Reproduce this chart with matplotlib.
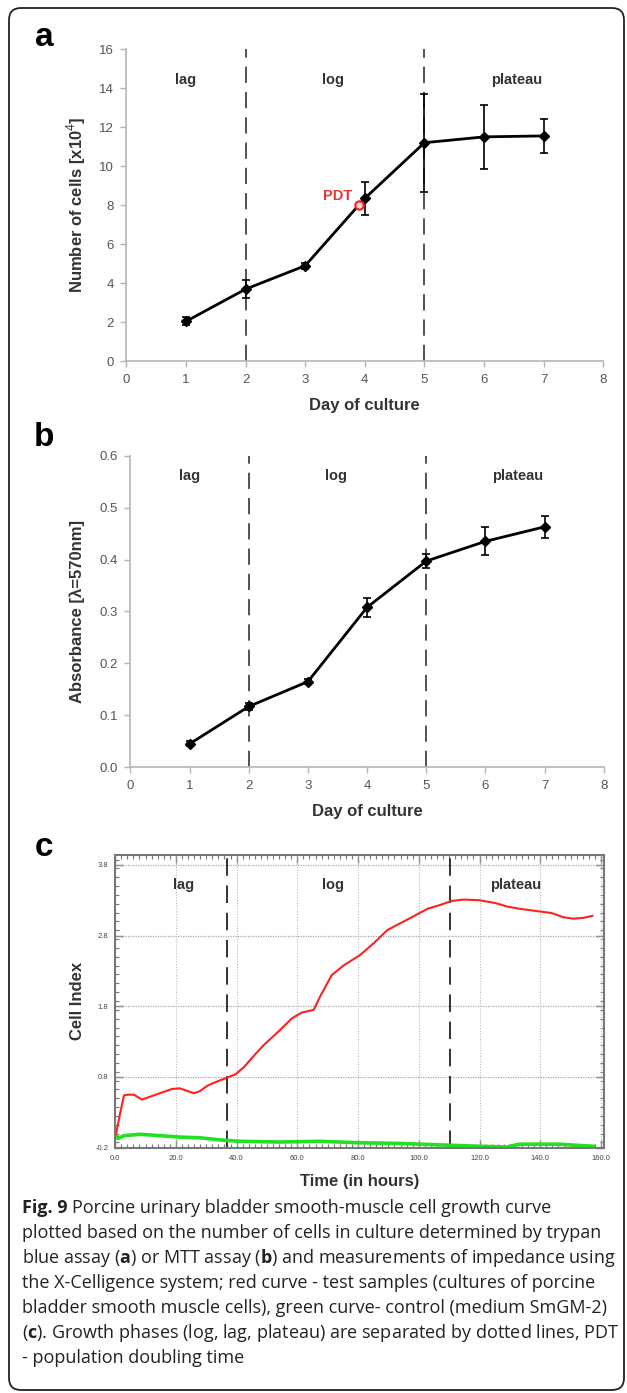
import matplotlib
matplotlib.use("Agg")
import matplotlib.pyplot as plt
from matplotlib.patches import FancyBboxPatch
from matplotlib.ticker import MultipleLocator, FixedLocator
import numpy as np

# ---- panel a: trypan blue counts ----
days = [1, 2, 3, 4, 5, 6, 7]
cells = [2.05, 3.7, 4.9, 8.35, 11.2, 11.5, 11.55]
cells_err = [0.2, 0.45, 0.15, 0.85, 2.5, 1.65, 0.88]
pdt_day, pdt_cells = 3.9, 8.0

# ---- panel b: MTT absorbance ----
absorb = [0.045, 0.117, 0.165, 0.308, 0.397, 0.435, 0.463]
absorb_err = [0.005, 0.007, 0.005, 0.018, 0.014, 0.027, 0.021]

# ---- panel c: impedance (cell index) ----
red_t = [0.3, 1.6, 2.9, 4.2, 6.2, 8.8, 11.4, 14.7, 18.7, 21.3, 23.3, 25.9, 27.9,
         30.5, 33.8, 36.8, 39.7, 42.4, 46.3, 48.9, 54.2, 58.2, 61.4, 65.4, 67.4,
         71.3, 75.3, 80.5, 85.1, 89.7, 93.7, 99.0, 102.9, 106.8, 110.8, 114.7,
         120.0, 125.3, 129.2, 133.2, 138.4, 143.7, 147.6, 150.9, 154.2, 157.2]
red_ci = [0.0, 0.28, 0.54, 0.55, 0.55, 0.48, 0.52, 0.57, 0.63, 0.64, 0.61, 0.57, 0.60,
          0.68, 0.74, 0.79, 0.84, 0.94, 1.13, 1.25, 1.46, 1.63, 1.71, 1.75, 1.93,
          2.24, 2.38, 2.52, 2.69, 2.88, 2.97, 3.09, 3.18, 3.23, 3.29, 3.31,
          3.30, 3.26, 3.21, 3.18, 3.15, 3.12, 3.06, 3.04, 3.05, 3.08]
green_t = [0.0, 0.9, 2.9, 8.2, 14.7, 21.3, 27.9, 34.5, 41.0, 54.2, 67.4, 80.5,
           93.7, 106.8, 120.0, 129.0, 133.0, 146.0, 157.5]
green_ci = [0.02, -0.07, -0.03, -0.01, -0.03, -0.05, -0.06, -0.09, -0.11, -0.12, -0.11,
            -0.13, -0.14, -0.16, -0.18, -0.19, -0.15, -0.15, -0.18]
hour_ticks = list(range(0, 161, 20))
ci_ticks = [-0.2, 0.8, 1.8, 2.8, 3.8]
phase_split_days = [2, 5]
phase_split_hours = [36.8, 110.4]
phase_names = ["lag", "log", "plateau"]

caption_bold = "Fig. 9"
caption_lines = [
    "Porcine urinary bladder smooth-muscle cell growth curve",
    "plotted based on the number of cells in culture determined by trypan",
    r"blue assay ($\mathbf{a}$) or MTT assay ($\mathbf{b}$) and measurements of impedance using",
    "the X-Celligence system; red curve - test samples (cultures of porcine",
    "bladder smooth muscle cells), green curve- control (medium SmGM-2)",
    r"($\mathbf{c}$). Growth phases (log, lag, plateau) are separated by dotted lines, PDT",
    "- population doubling time",
]

plt.rcParams['font.family'] = ['Liberation Sans', 'DejaVu Sans']
plt.rcParams['mathtext.fontset'] = 'custom'
plt.rcParams['mathtext.rm'] = 'Open Sans'
plt.rcParams['mathtext.bf'] = 'Open Sans:bold'

W, H = 627, 1393
fig = plt.figure(figsize=(W / 100, H / 100), dpi=100)

# outer rounded frame
frame = FancyBboxPatch((0.09, 0.03), 6.15, 13.82, boxstyle="round,pad=0,rounding_size=0.12",
                       transform=fig.dpi_scale_trans, fill=False, edgecolor='#222222', linewidth=1.3)
fig.add_artist(frame)

axis_gray = '#b5b5b5'
tick_gray = '#555555'
label_col = '#333333'


def style_day_axis(ax):
    for s in ['top', 'right']:
        ax.spines[s].set_visible(False)
    for s in ['left', 'bottom']:
        ax.spines[s].set_color(axis_gray)
        ax.spines[s].set_linewidth(1.2)
    ax.tick_params(direction='out', length=4, width=1, color=axis_gray,
                   labelcolor=tick_gray, labelsize=9.5, pad=5)
    ax.set_xlim(0, 8)
    ax.set_xticks(range(0, 9))
    ax.set_xlabel("Day of culture", fontsize=12, fontweight='bold', color=label_col, labelpad=9)


# ========== panel a ==========
ax1 = fig.add_axes([0.2016, 0.7406, 0.7604, 0.2242])
style_day_axis(ax1)
ax1.set_ylim(0, 16)
ax1.set_yticks(range(0, 17, 2))
for d in phase_split_days:
    ax1.plot([d, d], [0, 16], color='#444444', linestyle=(0, (9, 5)), linewidth=1.3)
ax1.errorbar(days, cells, yerr=cells_err, color='black', linewidth=2, marker='D',
             markersize=5, capsize=3, elinewidth=1.2, capthick=1.2)
ax1.plot([pdt_day], [pdt_cells], marker='o', markersize=6, markerfacecolor='#ffd0d0',
         markeredgecolor='#ee2222', markeredgewidth=1.5, linestyle='none', zorder=5)
ax1.text(3.55, 8.45, "PDT", color='#ee3333', fontsize=10.5, fontweight='bold', ha='center', va='center')
for xpos, name in zip([1.0, 3.47, 6.55], phase_names):
    ax1.text(xpos, 14.4, name, fontsize=10.5, fontweight='bold', color=label_col, ha='center', va='center')
ax1.set_ylabel("Number of cells [x10$^{4}$]", fontsize=12, fontweight='bold', color=label_col)
ax1.yaxis.set_label_coords(-38 / (0.7604 * W), 0.5)

# ========== panel b ==========
ax2 = fig.add_axes([0.208, 0.4492, 0.755, 0.2237])
style_day_axis(ax2)
ax2.set_ylim(0, 0.6)
ax2.set_yticks(np.arange(0, 0.61, 0.1))
ax2.set_yticklabels([f"{v:.1f}" for v in np.arange(0, 0.61, 0.1)])
for d in phase_split_days:
    ax2.plot([d, d], [0, 0.6], color='#444444', linestyle=(0, (9, 5)), linewidth=1.3)
ax2.errorbar(days, absorb, yerr=absorb_err, color='black', linewidth=2, marker='D',
             markersize=5, capsize=3, elinewidth=1.2, capthick=1.2)
for xpos, name in zip([1.0, 3.47, 6.55], phase_names):
    ax2.text(xpos, 0.561, name, fontsize=10.5, fontweight='bold', color=label_col, ha='center', va='center')
ax2.set_ylabel("Absorbance [\u03bb=570nm]", fontsize=12, fontweight='bold', color=label_col)
ax2.yaxis.set_label_coords(-45 / (0.755 * W), 0.5)

# ========== panel c ==========
ax3 = fig.add_axes([0.1837, 0.1761, 0.7796, 0.2101])
ax3.set_xlim(0, 161)
ax3.set_ylim(-0.2, 3.94)
for s in ax3.spines.values():
    s.set_color('#777777')
    s.set_linewidth(1.5)
ax3.xaxis.set_major_locator(FixedLocator(hour_ticks))
ax3.xaxis.set_minor_locator(MultipleLocator(2))
ax3.yaxis.set_major_locator(FixedLocator(ci_ticks))
ax3.yaxis.set_minor_locator(MultipleLocator(0.125))
ax3.set_xticklabels([f"{v:.1f}" for v in hour_ticks])
ax3.set_yticklabels([f"{v:.1f}" for v in ci_ticks])
ax3.tick_params(which='both', direction='in', top=True, right=True, color='#777777')
ax3.tick_params(which='major', length=6, width=1, labelsize=5.5, labelcolor='#444444', pad=5)
ax3.tick_params(which='minor', length=3, width=0.8)
for yv in ci_ticks[1:]:
    ax3.axhline(yv, color='#aaaaaa', linewidth=0.9, linestyle=(0, (1, 1)))
for xv in hour_ticks[1:]:
    ax3.axvline(xv, color='#bbbbbb', linewidth=0.8, linestyle=(0, (1, 1.5)))
for h in phase_split_hours:
    ax3.axvline(h, color='#333333', linewidth=1.4, linestyle=(0, (9, 5)))
ax3.plot(green_t, green_ci, color='#22e022', linewidth=2.6)
ax3.plot(red_t, red_ci, color='#ff2020', linewidth=1.5)
for xpos, name in zip([22.6, 71.7, 131.8], phase_names):
    ax3.text(xpos, 3.52, name, fontsize=10.5, fontweight='bold', color=label_col, ha='center', va='center')
ax3.set_ylabel("Cell Index", fontsize=12, fontweight='bold', color=label_col)
ax3.yaxis.set_label_coords(-30 / (0.7796 * W), 0.5)
ax3.set_xlabel("Time (in hours)", fontsize=12, fontweight='bold', color=label_col, labelpad=9)

# panel letters
for letter, ypix in zip(["a", "b", "c"], [37, 437, 847]):
    fig.text(44 / W, 1 - ypix / H, letter, fontsize=24, fontweight='bold', ha='center', va='center')

# caption
cap_size = 13
renderer = fig.canvas.get_renderer()
head = fig.text(22 / W, 1 - 1208 / H, caption_bold, fontsize=cap_size, family='Open Sans',
                fontweight='bold', color='#222222', ha='left', va='center')
head_w = head.get_window_extent(renderer).width
for i, line in enumerate(caption_lines):
    x0 = 22 if i > 0 else 22 + head_w + 4
    fig.text(x0 / W, 1 - (1208 + 25 * i) / H, line, fontsize=cap_size, family='Open Sans',
             color='#222222', ha='left', va='center')

fig.savefig("out.png", dpi=100)
